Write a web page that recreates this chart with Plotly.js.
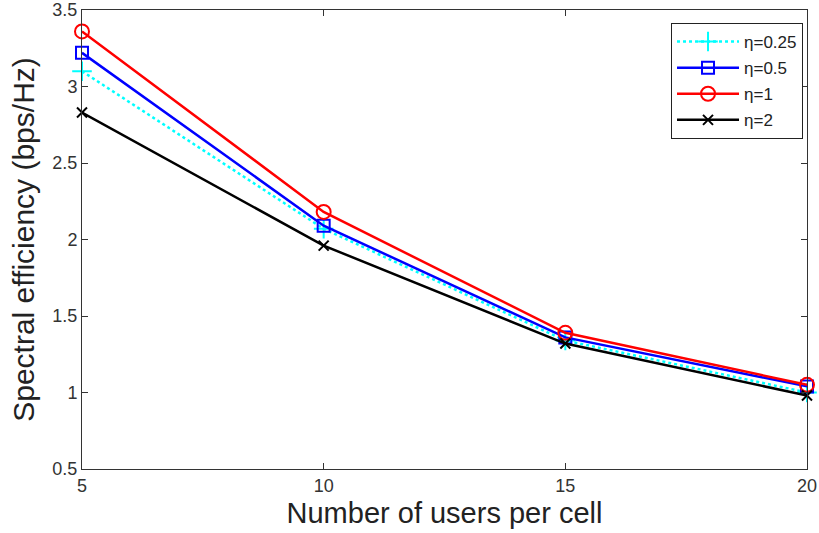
<!DOCTYPE html>
<html>
<head>
<meta charset="utf-8">
<script src="https://cdn.plot.ly/plotly-3.0.1.min.js"></script>
<style>html,body{margin:0;padding:0;background:#fff;}#chart{width:819px;height:533px;}</style>
</head>
<body>
<div id="chart"></div>
<script>
var users = [5, 10, 15, 20];
var eta025 = [3.10, 2.07, 1.34, 1.00];
var eta05 = [3.22, 2.09, 1.36, 1.04];
var eta1 = [3.36, 2.18, 1.39, 1.05];
var eta2 = [2.83, 1.96, 1.32, 0.98];
var names = ['η=0.25', 'η=0.5', 'η=1', 'η=2'];
var xTicks = [5, 10, 15, 20];
var yTicks = [0.5, 1, 1.5, 2, 2.5, 3, 3.5];

function tr(y, name, color, dash, symbol, size, g) {
  return {
    x: users, y: y, name: name, type: 'scatter', mode: 'lines+markers',
    legendgroup: g, cliponaxis: false,
    line: {color: color, width: 2.5, dash: dash},
    marker: {symbol: symbol, size: size, color: color, line: {color: color, width: 2}}
  };
}
var data = [
  tr(eta025, names[0], '#00FFFF', 'dot', 'cross-thin-open', 14, 'a'),
  tr(eta05, names[1], '#0000FF', 'solid', 'square-open', 12, 'b'),
  tr(eta1, names[2], '#FF0000', 'solid', 'circle-open', 14, 'c'),
  tr(eta2, names[3], '#000000', 'solid', 'x-thin-open', 10, 'd')
];
var axisCommon = {
  showgrid: false, zeroline: false, showline: true, mirror: 'ticks',
  linecolor: '#333', linewidth: 1, ticks: 'inside', ticklen: 6, tickcolor: '#333',
  ticklabeloverflow: 'allow',
  tickfont: {family: 'Liberation Sans, Arial, sans-serif', size: 18, color: '#333'}
};
var layout = {
  width: 819, height: 533,
  margin: {l: 82, r: 12, t: 10, b: 64},
  paper_bgcolor: '#fff', plot_bgcolor: '#fff',
  font: {family: 'Liberation Sans, Arial, sans-serif', color: '#222'},
  xaxis: Object.assign({}, axisCommon, {
    range: [5, 20], tickvals: xTicks, ticktext: xTicks.map(String),
    title: {text: 'Number of users per cell', font: {size: 29, color: '#222'}, standoff: 8}
  }),
  yaxis: Object.assign({}, axisCommon, {
    range: [0.5, 3.5], tickvals: yTicks, ticktext: yTicks.map(String),
    title: {text: 'Spectral efficiency (bps/Hz)', font: {size: 30, color: '#222'}, standoff: 8}
  }),
  showlegend: true,
  legend: {
    x: 0.9945, y: 0.9717, xanchor: 'right', yanchor: 'top',
    bgcolor: '#fff', bordercolor: '#222', borderwidth: 1,
    font: {size: 17, color: '#222'}, tracegroupgap: 1, itemwidth: 62
  }
};
Plotly.newPlot('chart', data, layout, {displayModeBar: false, staticPlot: true});
</script>
</body>
</html>
